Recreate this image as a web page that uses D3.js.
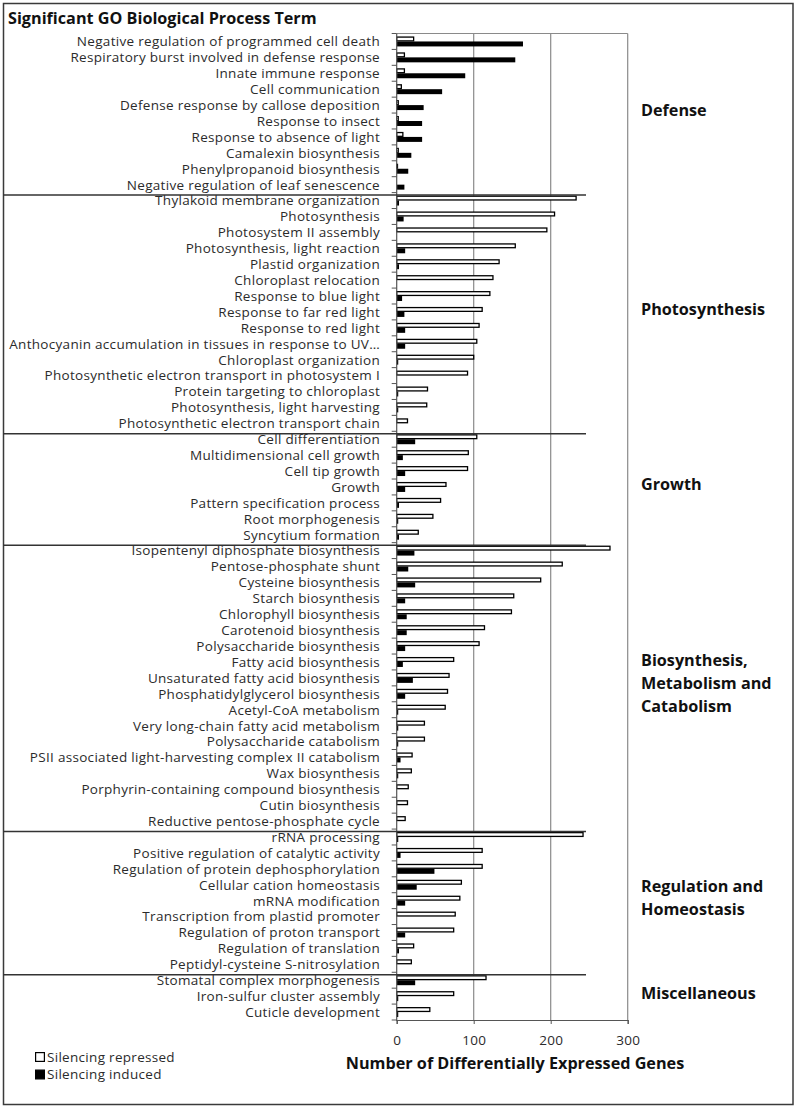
<!DOCTYPE html>
<html>
<head>
<meta charset="utf-8">
<script src="https://cdn.jsdelivr.net/npm/d3@7"></script>
<style>
  html, body { margin: 0; padding: 0; background: #fff; }
  svg { display: block; font-family: "Open Sans", Lato, sans-serif; }
</style>
</head>
<body>
<div id="chart"></div>
<script>
/* ── data ─────────────────────────────────────────────── */

const groups = ['Defense', 'Photosynthesis', 'Growth',
  'Biosynthesis, Metabolism and Catabolism', 'Regulation and Homeostasis', 'Miscellaneous'];

// label lines for the group captions on the right
const groupLines = [
  ['Defense'],
  ['Photosynthesis'],
  ['Growth'],
  ['Biosynthesis,', 'Metabolism and', 'Catabolism'],
  ['Regulation and', 'Homeostasis'],
  ['Miscellaneous']
];

const groupSizes = [10, 15, 7, 18, 9, 3];

const terms = [
  // Defense
  'Negative regulation of programmed cell death',
  'Respiratory burst involved in defense response',
  'Innate immune response',
  'Cell communication',
  'Defense response by callose deposition',
  'Response to insect',
  'Response to absence of light',
  'Camalexin biosynthesis',
  'Phenylpropanoid biosynthesis',
  'Negative regulation of leaf senescence',
  // Photosynthesis
  'Thylakoid membrane organization',
  'Photosynthesis',
  'Photosystem II assembly',
  'Photosynthesis, light reaction',
  'Plastid organization',
  'Chloroplast relocation',
  'Response to blue light',
  'Response to far red light',
  'Response to red light',
  'Anthocyanin accumulation in tissues in response to UV…',
  'Chloroplast organization',
  'Photosynthetic electron transport in photosystem I',
  'Protein targeting to chloroplast',
  'Photosynthesis, light harvesting',
  'Photosynthetic electron transport chain',
  // Growth
  'Cell differentiation',
  'Multidimensional cell growth',
  'Cell tip growth',
  'Growth',
  'Pattern specification process',
  'Root morphogenesis',
  'Syncytium formation',
  // Biosynthesis, Metabolism and Catabolism
  'Isopentenyl diphosphate biosynthesis',
  'Pentose-phosphate shunt',
  'Cysteine biosynthesis',
  'Starch biosynthesis',
  'Chlorophyll biosynthesis',
  'Carotenoid biosynthesis',
  'Polysaccharide biosynthesis',
  'Fatty acid biosynthesis',
  'Unsaturated fatty acid biosynthesis',
  'Phosphatidylglycerol biosynthesis',
  'Acetyl-CoA metabolism',
  'Very long-chain fatty acid metabolism',
  'Polysaccharide catabolism',
  'PSII associated light-harvesting complex II catabolism',
  'Wax biosynthesis',
  'Porphyrin-containing compound biosynthesis',
  'Cutin biosynthesis',
  'Reductive pentose-phosphate cycle',
  // Regulation and Homeostasis
  'rRNA processing',
  'Positive regulation of catalytic activity',
  'Regulation of protein dephosphorylation',
  'Cellular cation homeostasis',
  'mRNA modification',
  'Transcription from plastid promoter',
  'Regulation of proton transport',
  'Regulation of translation',
  'Peptidyl-cysteine S-nitrosylation',
  // Miscellaneous
  'Stomatal complex morphogenesis',
  'Iron-sulfur cluster assembly',
  'Cuticle development'
];

const repressed = [
  22, 10, 10, 6, 2, 2, 8, 2, 1, 0,
  233, 205, 195, 154, 133, 125, 121, 111, 107, 104, 100, 92, 40, 39, 14,
  104, 93, 92, 64, 57, 47, 28,
  277, 215, 187, 152, 149, 114, 107, 74, 68, 66, 63, 36, 36, 20, 19, 15, 14, 11,
  242, 111, 111, 84, 82, 76, 74, 22, 19,
  116, 74, 43
];

const induced = [
  164, 154, 89, 59, 35, 33, 33, 19, 15, 10,
  3, 9, 0, 11, 3, 0, 7, 10, 11, 11, 2, 0, 2, 2, 0,
  24, 8, 11, 11, 3, 2, 3,
  23, 15, 24, 11, 13, 13, 11, 8, 21, 11, 2, 2, 2, 5, 2, 0, 0, 0,
  2, 5, 49, 26, 11, 0, 11, 3, 0,
  24, 2, 2
];

const xTicks = [0, 100, 200, 300];
const seriesNames = ['Silencing repressed', 'Silencing induced'];

/* ── layout ───────────────────────────────────────────── */

const W = 799, H = 1108;
const plot = { left: 396.7, right: 627.7, top: 33.5, bottom: 1020 };
const LABEL_SIZE = 13.5, LABEL_SPACING = '0.3px';

const svg = d3.select('#chart').append('svg')
  .attr('width', W).attr('height', H);

svg.append('rect').attr('width', W).attr('height', H).attr('fill', '#fff');

// outer frame
svg.append('rect')
  .attr('x', 3.5).attr('y', 3.5)
  .attr('width', 789.5).attr('height', 1101)
  .attr('fill', 'none').attr('stroke', '#3a3a3a').attr('stroke-width', 1.5);

const x = d3.scaleLinear().domain([0, 300]).range([plot.left, plot.right]);
const y = d3.scaleBand().domain(terms).range([plot.top, plot.bottom]).padding(0);
const sub = d3.scaleBand().domain(['rep', 'ind']).range([0, y.bandwidth()])
  .paddingInner(0).paddingOuter(0.6);

// gridlines + plot frame (top/right)
svg.append('g')
  .selectAll('line')
  .data(xTicks.slice(1))
  .join('line')
  .attr('x1', d => x(d)).attr('x2', d => x(d))
  .attr('y1', plot.top).attr('y2', plot.bottom)
  .attr('stroke', '#8a8a8a').attr('stroke-width', 1.2);

svg.append('line')
  .attr('x1', plot.left).attr('x2', plot.right)
  .attr('y1', plot.top).attr('y2', plot.top)
  .attr('stroke', '#8a8a8a').attr('stroke-width', 1.2);

/* ── bars ─────────────────────────────────────────────── */

const rows = terms.map((t, i) => ({ term: t, rep: repressed[i], ind: induced[i] }));

svg.append('g')
  .selectAll('rect')
  .data(rows.filter(d => d.rep > 0))
  .join('rect')
  .attr('x', x(0))
  .attr('y', d => y(d.term) + sub('rep') + 0.6)
  .attr('width', d => x(d.rep) - x(0))
  .attr('height', sub.bandwidth() - 1.2)
  .attr('fill', '#fff')
  .attr('stroke', '#000')
  .attr('stroke-width', 1.3);

svg.append('g')
  .selectAll('rect')
  .data(rows.filter(d => d.ind > 0))
  .join('rect')
  .attr('x', x(0))
  .attr('y', d => y(d.term) + sub('ind'))
  .attr('width', d => x(d.ind) - x(0))
  .attr('height', sub.bandwidth())
  .attr('fill', '#000');

/* ── axes ─────────────────────────────────────────────── */

const yAxis = svg.append('g');
yAxis.append('line')
  .attr('x1', plot.left).attr('x2', plot.left)
  .attr('y1', plot.top).attr('y2', plot.bottom + 1)
  .attr('stroke', '#555').attr('stroke-width', 1.2);

// category boundary ticks
const bounds = terms.map(t => y(t)).concat([plot.bottom]);
yAxis.selectAll('line.tick')
  .data(bounds)
  .join('line')
  .attr('class', 'tick')
  .attr('x1', plot.left - 5).attr('x2', plot.left)
  .attr('y1', d => d).attr('y2', d => d)
  .attr('stroke', '#555').attr('stroke-width', 1);

yAxis.selectAll('text')
  .data(terms)
  .join('text')
  .attr('x', 380)
  .attr('y', d => y(d) + y.bandwidth() / 2)
  .attr('dy', '0.36em')
  .attr('text-anchor', 'end')
  .attr('font-size', LABEL_SIZE)
  .attr('letter-spacing', LABEL_SPACING)
  .attr('fill', '#2b2b2b')
  .text(d => d);

const xAxis = svg.append('g')
  .attr('transform', `translate(0,${plot.bottom})`)
  .call(d3.axisBottom(x).tickValues(xTicks).tickSize(4).tickPadding(11).tickFormat(d3.format('d')));
xAxis.select('.domain').attr('stroke', '#555').attr('stroke-width', 1.2);
xAxis.selectAll('.tick line').attr('stroke', '#555');
xAxis.selectAll('.tick text')
  .attr('font-family', '"Open Sans", sans-serif')
  .attr('font-size', LABEL_SIZE)
  .attr('letter-spacing', LABEL_SPACING)
  .attr('fill', '#2b2b2b');

svg.append('text')
  .attr('x', 515).attr('y', 1063)
  .attr('dy', '0.35em')
  .attr('text-anchor', 'middle')
  .attr('font-size', 16.2)
  .attr('font-weight', 'bold')
  .attr('fill', '#111')
  .text('Number of Differentially Expressed Genes');

/* ── group separators and captions ────────────────────── */

let start = 0;
const groupInfo = groupSizes.map((n, i) => {
  const first = terms[start];
  const last = terms[start + n - 1];
  const info = { name: groups[i], lines: groupLines[i], first, top: y(first), mid: (y(first) + y(last) + y.bandwidth()) / 2 };
  start += n;
  return info;
});

svg.append('g')
  .selectAll('line')
  .data(groupInfo.slice(1))
  .join('line')
  .attr('x1', 3).attr('x2', 586)
  .attr('y1', d => d.top + 2.5).attr('y2', d => d.top + 2.5)
  .attr('stroke', '#333').attr('stroke-width', 1.5);

const caps = svg.append('g')
  .selectAll('text')
  .data(groupInfo)
  .join('text')
  .attr('x', 641)
  .attr('y', d => d.mid + 3 - (d.lines.length - 1) * 11.5)
  .attr('dy', '0.35em')
  .attr('font-size', 16.2)
  .attr('font-weight', 'bold')
  .attr('fill', '#111');

caps.selectAll('tspan')
  .data(d => d.lines)
  .join('tspan')
  .attr('x', 641)
  .attr('dy', (d, i) => i === 0 ? 0 : 23)
  .text(d => d);

/* ── title + legend ───────────────────────────────────── */

svg.append('text')
  .attr('x', 8).attr('y', 24)
  .attr('font-size', 16.2)
  .attr('font-weight', 'bold')
  .attr('fill', '#111')
  .text('Significant GO Biological Process Term');

const legend = svg.append('g')
  .selectAll('g')
  .data(seriesNames)
  .join('g')
  .attr('transform', (d, i) => `translate(35,${1057 + i * 17.5})`);

legend.append('rect')
  .attr('x', 0.6).attr('y', -4.4)
  .attr('width', 8.8).attr('height', 8.8)
  .attr('fill', (d, i) => i === 0 ? '#fff' : '#000')
  .attr('stroke', '#000').attr('stroke-width', 1.2);

legend.append('text')
  .attr('x', 12)
  .attr('dy', '0.36em')
  .attr('font-size', LABEL_SIZE)
  .attr('letter-spacing', LABEL_SPACING)
  .attr('fill', '#2b2b2b')
  .text(d => d);
</script>
</body>
</html>
